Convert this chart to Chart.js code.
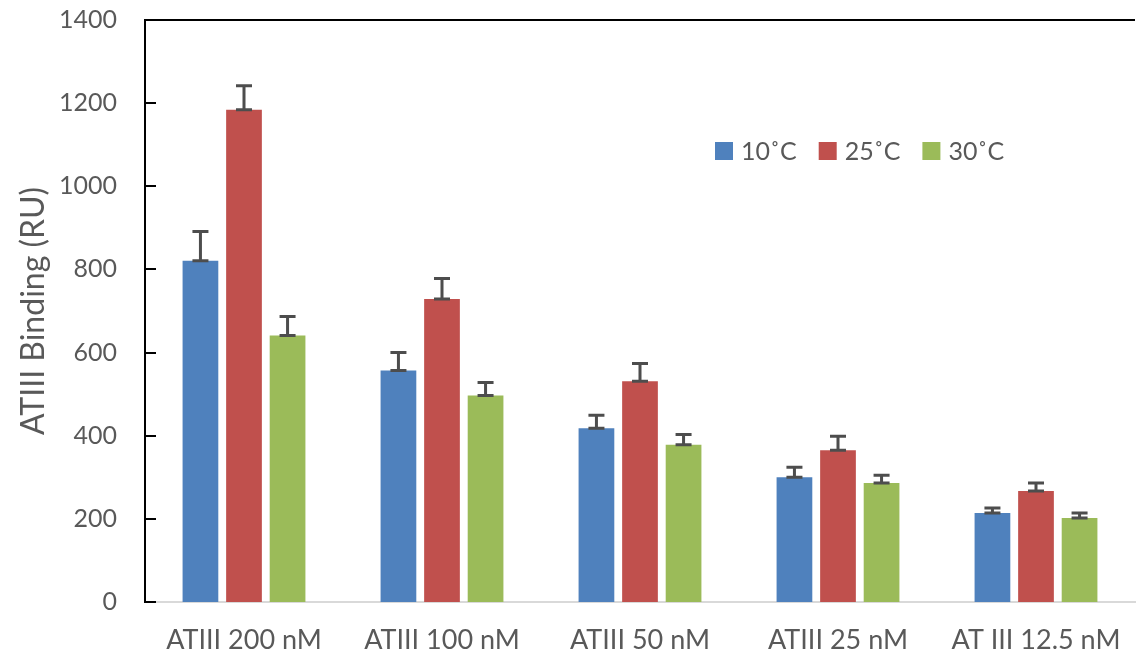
<!DOCTYPE html>
<html>
<head>
<meta charset="utf-8">
<script src="https://cdn.jsdelivr.net/npm/chart.js@4/dist/chart.umd.min.js"></script>
<style>
  html, body { margin: 0; padding: 0; background: #fff; }
  #wrap { width: 1137px; height: 664px; }
</style>
</head>
<body>
<div id="wrap"><canvas id="binding"></canvas></div>
<script>
// data
let labels = ["ATIII 200 nM", "ATIII 100 nM", "ATIII 50 nM", "ATIII 25 nM", "AT III 12.5 nM"];
let temp10 = [821, 557, 418, 300, 214];
let temp25 = [1184, 729, 531, 365, 267];
let temp30 = [641, 497, 378, 286, 202];
let err10 = [70, 43, 31, 24, 12];
let err25 = [58, 49, 43, 34, 19];
let err30 = [46, 31, 25, 19, 12];
let yTicks = [0, 200, 400, 600, 800, 1000, 1200, 1400];

const textGray = "#595959";
const fontName = "Lato, 'Open Sans', sans-serif";

//error bars go up only, cap at bar top and at the end
const errorBars = {
    id: "errorBars",
    afterDatasetsDraw(chart){
        let ctx = chart.ctx;
        let y = chart.scales.y;
        ctx.save();
        ctx.strokeStyle = "#4d4d4d";
        ctx.lineWidth = 3;
        chart.data.datasets.forEach((ds, i) => {
            let meta = chart.getDatasetMeta(i);
            meta.data.forEach((bar, j) => {
                let top = y.getPixelForValue(ds.data[j] + ds.errors[j]);
                let base = y.getPixelForValue(ds.data[j]);
                ctx.beginPath();
                ctx.moveTo(bar.x, base);
                ctx.lineTo(bar.x, top);
                ctx.moveTo(bar.x - 8, top);
                ctx.lineTo(bar.x + 8, top);
                ctx.moveTo(bar.x - 8, base);
                ctx.lineTo(bar.x + 8, base);
                ctx.stroke();
            });
        });
        ctx.restore();
    }
};

//frame: black top line, inward ticks on the y axis, legend inside the plot
const frame = {
    id: "frame",
    afterDraw(chart){
        let ctx = chart.ctx;
        let a = chart.chartArea;
        let y = chart.scales.y;
        ctx.save();
        ctx.strokeStyle = "#000";
        ctx.lineWidth = 2;
        ctx.beginPath();
        ctx.moveTo(a.left, a.top);
        ctx.lineTo(a.right, a.top);
        ctx.stroke();
        ctx.beginPath();
        yTicks.forEach(v => {
            let py = Math.round(y.getPixelForValue(v));
            ctx.moveTo(a.left, py);
            ctx.lineTo(a.left + 11, py);
        });
        ctx.stroke();

        // legend
        ctx.font = "25px " + fontName;
        ctx.textBaseline = "middle";
        let lx = 715, ly = 151;
        chart.data.datasets.forEach(ds => {
            ctx.fillStyle = ds.backgroundColor;
            ctx.fillRect(lx, ly - 9, 18, 18);
            ctx.fillStyle = textGray;
            ctx.fillText(ds.label, lx + 26, ly + 1);
            lx += 26 + ctx.measureText(ds.label).width + 22;
        });
        ctx.restore();
    }
};

let ctx = document.getElementById("binding");
let chart = new Chart(ctx, {
    type: "bar",
    data: {
        labels: labels,
        datasets: [{
            label: "10˚C",
            data: temp10,
            errors: err10,
            backgroundColor: "#4f81bd"
        },{
            label: "25˚C",
            data: temp25,
            errors: err25,
            backgroundColor: "#c0504d"
        },{
            label: "30˚C",
            data: temp30,
            errors: err30,
            backgroundColor: "#9bbb59"
        }]
    },
    options: {
        responsive: true,
        maintainAspectRatio: false,
        animation: false,
        layout: { padding: { top: 0, right: 2, left: 14, bottom: 0 } },
        datasets: {
            bar: { categoryPercentage: 0.66, barPercentage: 0.82 }
        },
        plugins: {
            legend: { display: false },
            tooltip: { enabled: false }
        },
        scales: {
            x: {
                grid: { display: false, drawTicks: false },
                border: { color: "#d9d9d9", width: 2 },
                ticks: {
                    color: textGray,
                    font: { family: fontName, size: 27 },
                    padding: 22,
                    maxRotation: 0
                },
                afterFit(s){
                    s.height = 62;
                    s.paddingLeft = 0;
                    s.paddingRight = 0;
                }
            },
            y: {
                min: 0,
                max: 1400,
                afterBuildTicks(s){ s.ticks = yTicks.map(v => ({ value: v })); },
                grid: { display: false, drawTicks: false },
                border: { color: "#000", width: 2 },
                ticks: {
                    color: textGray,
                    font: { family: fontName, size: 25 },
                    padding: 28,
                    callback: v => String(v)
                },
                title: {
                    display: true,
                    text: "ATIII Binding (RU)",
                    color: textGray,
                    font: { family: fontName, size: 32 },
                    padding: 0
                },
                afterFit(s){
                    s.width = 131;
                    s.paddingTop = 20;
                }
            }
        }
    },
    plugins: [errorBars, frame]
});
</script>
</body>
</html>
